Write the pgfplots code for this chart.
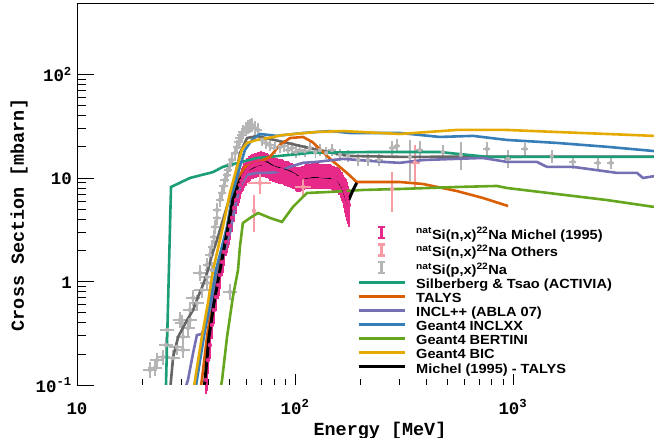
\documentclass[border=0pt]{standalone}
\usepackage{pgfplots}
\pgfplotsset{compat=1.18}
\usepackage{fontspec}
\setmainfont{Liberation Sans}
\setmonofont{Liberation Mono}
\newfontfamily\legfont{Liberation Sans}[FakeStretch=1.1]
\definecolor{cteal}{HTML}{1B9E77}
\definecolor{corange}{HTML}{D95F02}
\definecolor{cpurple}{HTML}{7570B3}
\definecolor{cblue}{HTML}{377EB8}
\definecolor{cgreen}{HTML}{66A61E}
\definecolor{cyellow}{HTML}{E6AB02}
\definecolor{cdgray}{HTML}{666666}
\definecolor{cmichel}{HTML}{E7298A}
\definecolor{cothers}{HTML}{F79CA4}
\definecolor{cpdata}{HTML}{B5B5B5}

\pgfplotstableread{
x y ex ey
21.6 0.140 0.05 0.12
22.8 0.146 0.05 0.12
23.3 0.174 0.05 0.12
24.8 0.186 0.05 0.12
25.6 0.243 0.05 0.12
25.9 0.340 0.05 0.12
27.6 0.182 0.05 0.12
28.7 0.233 0.05 0.12
29.7 0.425 0.05 0.12
30.6 0.218 0.05 0.12
30.6 0.291 0.05 0.12
30.3 0.397 0.05 0.12
32.3 0.355 0.05 0.12
33.0 0.425 0.05 0.12
33.0 0.530 0.05 0.12
34.1 0.693 0.05 0.12
35.5 0.620 0.05 0.12
36.7 1.208 0.05 0.12
37.4 0.828 0.05 0.12
39.5 0.97 0.05 0.12
39.5 1.105 0.05 0.12
41.6 1.291 0.05 0.12
50.3 0.792 0.05 0.12
39.5 1.443 0.02 0.10
40.7 1.803 0.02 0.10
41.6 2.154 0.02 0.10
42.5 2.692 0.02 0.10
43.0 3.36 0.02 0.10
43.9 4.11 0.02 0.10
43.9 4.91 0.02 0.10
45.3 6.13 0.02 0.10
46.3 7.16 0.02 0.10
47.2 8.37 0.02 0.10
47.7 9.56 0.02 0.10
48.8 10.7 0.02 0.10
49.3 11.9 0.02 0.10
50.3 13.4 0.02 0.10
51.4 14.9 0.02 0.10
53.1 17.4 0.02 0.10
54.2 19.9 0.02 0.10
55.3 22.3 0.02 0.10
55.9 24.3 0.02 0.10
57.1 26.0 0.02 0.10
57.7 27.8 0.02 0.10
59.6 29.7 0.02 0.10
60.9 31.1 0.02 0.10
62.2 31.8 0.02 0.10
63.5 32.5 0.02 0.10
65.5 30.4 0.02 0.10
67.7 29.1 0.02 0.10
70.6 23.3 0.02 0.08
73.6 21.8 0.02 0.08
76.8 20.8 0.02 0.08
80.9 19.5 0.02 0.08
85.3 19.9 0.02 0.08
89.0 20.4 0.02 0.08
92.9 18.6 0.02 0.08
96.9 19.5 0.02 0.08
101 17.8 0.02 0.08
105 18.6 0.02 0.08
111 18.2 0.02 0.08
117 19.5 0.02 0.08
124 17.8 0.02 0.08
130 18.6 0.02 0.08
139 17.4 0.02 0.08
148 18.6 0.02 0.08
161 16.7 0.02 0.08
175 16.3 0.02 0.08
195 14.9 0.02 0.08
216 14.9 0.02 0.08
243 14.9 0.02 0.08
279 19.5 0.01 0.10
294 20.4 0.01 0.10
337 16.0 0.01 0.38
374 18.6 0.01 0.17
477 17.8 0.01 0.10
577 16.7 0.01 0.25
760 19.1 0.01 0.10
949 15.3 0.01 0.14
1135 19.1 0.01 0.09
1509 16.3 0.01 0.09
1885 14.3 0.01 0.09
2455 14.0 0.01 0.09
2815 14.0 0.01 0.08
}\pdata

\pgfplotstableread{
x y e
39.1 0.112 0.22
39.9 0.174 0.22
40.7 0.243 0.22
41.6 0.380 0.22
42.5 0.530 0.22
43.4 0.708 0.22
44.4 0.925 0.22
45.3 1.156 0.22
46.3 1.543 0.22
47.2 1.928 0.22
48.3 2.41 0.22
49.3 2.88 0.22
50.3 3.44 0.22
51.4 4.11 0.22
52.5 5.13 0.22
53.6 6.13 0.22
54.8 7.32 0.22
55.9 8.56 0.22
56.8 9.4 0.22
57.7 10.2 0.22
58.6 10.8 0.22
59.6 11.4 0.22
60.5 12.0 0.22
61.5 12.5 0.22
62.5 12.8 0.22
63.5 13.1 0.22
64.5 13.3 0.22
65.5 13.4 0.22
66.6 13.6 0.22
67.7 13.7 0.22
68.7 13.9 0.22
69.8 14.0 0.22
71.0 13.9 0.22
72.1 13.7 0.22
73.2 13.5 0.22
74.4 13.4 0.22
75.6 13.1 0.22
76.8 12.8 0.22
78.0 12.6 0.22
79.3 12.5 0.22
80.5 12.3 0.22
81.8 12.2 0.22
83.1 12.0 0.22
84.5 11.9 0.22
85.8 11.9 0.22
87.2 11.9 0.22
88.6 11.6 0.22
90.0 11.4 0.22
91.4 11.3 0.22
92.9 11.2 0.22
94.4 11.0 0.22
95.9 10.9 0.22
97.4 10.7 0.22
99.0 10.5 0.22
100.5 10.2 0.22
102.1 10.0 0.22
103.7 10.0 0.22
105.4 10.0 0.22
107.1 10.1 0.22
108.8 10.2 0.22
110.5 10.4 0.22
112.3 10.5 0.22
114.1 10.5 0.22
115.9 10.5 0.22
117.8 10.6 0.22
119.7 10.7 0.22
121.6 10.7 0.22
123.5 10.7 0.22
125.5 10.7 0.22
127.5 10.7 0.22
129.5 10.6 0.22
131.6 10.5 0.22
133.7 10.5 0.22
135.8 10.5 0.22
138.0 10.5 0.22
140.2 10.5 0.22
142.4 10.5 0.22
144.7 10.5 0.22
147.0 10.4 0.22
149.4 10.2 0.22
151.8 10.1 0.22
154.2 10.0 0.22
156.7 9.8 0.23
159.2 9.56 0.24
161.7 9.1 0.25
164.3 8.56 0.26
166.9 7.9 0.28
169.6 7.32 0.30
171.4 6.9 0.33
173.2 6.41 0.35
175.0 5.9 0.35
176.9 5.48 0.35
}\michel

\pgfplotstableread{
x y ex ey
69.0 8.95 0.09 0.16
64.9 4.80 0.0 0.33
109 8.18 0.05 0.17
279 7.83 0.02 0.36
355 14.1 0.02 0.38
}\others

\begin{document}
\begin{tikzpicture}
\begin{axis}[
  set layers=standard,
  scale only axis, width=577bp, height=382bp,
  xmode=log, ymode=log,
  xmin=10, xmax=4440, ymin=0.1, ymax=490,
  axis line style={draw=none},
  tick pos=left,
  tick style={black, line width=0.6bp},
  xtick style={/pgfplots/major tick length=11bp,/pgfplots/minor tick length=6bp},
  ytick style={/pgfplots/major tick length=17bp,/pgfplots/minor tick length=9bp},
  xtick={10,100,1000}, xticklabels={10,10\textsuperscript{2},10\textsuperscript{3}},
  ytick={0.1,1,10,100}, yticklabels={10\textsuperscript{-1},1,10,10\textsuperscript{2}},
  xticklabel style={font=\ttfamily\bfseries\fontsize{17.5}{17.5}\selectfont, anchor=base, yshift=-29bp},
  yticklabel style={font=\ttfamily\bfseries\fontsize{17.5}{17.5}\selectfont, anchor=base east, inner sep=0pt, xshift=-5bp, yshift=-7bp},
  xlabel={Energy [MeV]}, ylabel={Cross Section [mbarn]},
  label style={font=\ttfamily\bfseries\fontsize{18.5}{20}\selectfont},
  xlabel style={at={(axis description cs:0.5251,-0.1309)}, anchor=base},
  ylabel style={at={(axis description cs:-0.0919,0.445)}, anchor=base},
  legend cell align=left,
  legend style={at={(axis description cs:0.4853,0.4180)}, anchor=north west,
    draw=none, fill=none, inner sep=0pt, row sep=0.6bp,
    font=\legfont\bfseries\fontsize{13.3}{15}\selectfont,
    nodes={inner sep=0pt, text height=10bp, text depth=3.5bp},
    /tikz/every odd column/.append style={column sep=10bp}},
]
\draw[black, line width=0.8bp] (rel axis cs:1,1) -- (rel axis cs:0,1) -- (rel axis cs:0,0) -- (rel axis cs:1,0);

% legend entries
\addlegendimage{legend image code/.code={\draw[cmichel, line width=2.6bp] (23bp,-2bp) -- (23bp,9bp) (19.5bp,-2bp) -- (26.5bp,-2bp) (19.5bp,9bp) -- (26.5bp,9bp);}}
\addlegendentry{\textsuperscript{nat}Si(n,x)\textsuperscript{22}Na Michel (1995)}
\addlegendimage{legend image code/.code={\draw[cothers, line width=2.6bp] (23bp,-2bp) -- (23bp,9bp) (19.5bp,-2bp) -- (26.5bp,-2bp) (19.5bp,9bp) -- (26.5bp,9bp);}}
\addlegendentry{\textsuperscript{nat}Si(n,x)\textsuperscript{22}Na Others}
\addlegendimage{legend image code/.code={\draw[cpdata, line width=2.6bp] (23bp,-2bp) -- (23bp,9bp) (19.5bp,-2bp) -- (26.5bp,-2bp) (19.5bp,9bp) -- (26.5bp,9bp);}}
\addlegendentry{\textsuperscript{nat}Si(p,x)\textsuperscript{22}Na}
\addlegendimage{legend image code/.code={\draw[cteal, line width=2.6bp] (0bp,3bp) -- (46bp,3bp);}}
\addlegendentry{Silberberg \& Tsao (ACTIVIA)}
\addlegendimage{legend image code/.code={\draw[corange, line width=2.6bp] (0bp,3bp) -- (46bp,3bp);}}
\addlegendentry{TALYS}
\addlegendimage{legend image code/.code={\draw[cpurple, line width=2.6bp] (0bp,3bp) -- (46bp,3bp);}}
\addlegendentry{INCL++ (ABLA 07)}
\addlegendimage{legend image code/.code={\draw[cblue, line width=2.6bp] (0bp,3bp) -- (46bp,3bp);}}
\addlegendentry{Geant4 INCLXX}
\addlegendimage{legend image code/.code={\draw[cgreen, line width=2.6bp] (0bp,3bp) -- (46bp,3bp);}}
\addlegendentry{Geant4 BERTINI}
\addlegendimage{legend image code/.code={\draw[cyellow, line width=2.6bp] (0bp,3bp) -- (46bp,3bp);}}
\addlegendentry{Geant4 BIC}
\addlegendimage{legend image code/.code={\draw[black, line width=3bp] (0bp,3bp) -- (46bp,3bp);}}
\addlegendentry{Michel (1995) - TALYS}

% p data
\addplot[forget plot, on layer=axis grid, only marks, mark=none, color=cpdata,
  error bars/.cd, x dir=both, y dir=both, x explicit relative, y explicit relative,
  error bar style={line width=1.6bp, cpdata}, error mark options={line width=1.6bp, mark size=2.5bp, cpdata}]
  table[x=x, y=y, x error=ex, y error=ey] {\pdata};
% Michel data
\addplot[forget plot, on layer=axis grid, only marks, mark=none, color=cmichel,
  error bars/.cd, y dir=both, y explicit relative,
  error bar style={line width=3bp, cmichel}, error mark options={line width=1.8bp, mark size=2.5bp, cmichel}]
  table[x=x, y=y, y error=e] {\michel};
% Others
\addplot[forget plot, on layer=axis grid, only marks, mark=none, color=cothers,
  error bars/.cd, x dir=both, y dir=both, x explicit relative, y explicit relative,
  error bar style={line width=2bp, cothers}, error mark options={line width=2bp, mark size=3bp, cothers}]
  table[x=x, y=y, x error=ex, y error=ey] {\others};

% dark gray fit line
\addplot[forget plot, cdgray, line width=2.6bp] coordinates {
(26.7,0.0856) (27.6,0.186) (29.1,0.291) (32.0,0.425) (34.1,0.530) (35.9,0.708) (38.2,0.97) (39.9,1.291) (41.6,1.803) (43.9,2.52) (46.7,3.93) (52.0,8.18) (56.0,17.5) (60.3,24.3) (67.0,25.4) (88.2,22.3) (126,18.7) (179,16.3) (303,16.0) (4440,16.1)};
% Silberberg & Tsao
\addplot[forget plot, cteal, line width=2.6bp] coordinates {
(25.5,0.0716) (27.0,8.18) (33.0,10.0) (42.1,11.4) (46.7,12.8) (66.9,15.6) (94.9,16.7) (117,17.5) (214,17.8) (462,17.8) (760,16.0) (4440,16.0)};
% TALYS
\addplot[forget plot, corange, line width=2.6bp] coordinates {
(36.7,0.0856) (37.4,0.112) (39.5,0.291) (41.6,0.620) (43.9,1.291) (48.8,3.36) (51.4,6.13) (54.8,10.0) (59.0,12.8) (66.9,14.0) (76.8,16.0) (85.3,20.8) (94.9,24.3) (108.8,24.9) (120,22.3) (145,15.3) (173,11.2) (192,9.14) (303,9.14) (386,8.75) (553,7.48) (728,6.41) (950,5.36)};
% INCL++
\addplot[forget plot, cpurple, line width=2.6bp] coordinates {
(31.0,0.0856) (32.3,0.112) (34.1,0.204) (35.5,0.304) (37.4,0.311) (39.5,0.425) (41.6,0.620) (44.8,1.291) (50.3,2.94) (53.1,5.25) (55.9,8.18) (60.2,10.7) (66.9,11.2) (74.4,11.2) (82.7,11.4) (94.9,12.8) (108.8,14.0) (126,14.3) (166,15.3) (253,14.3) (303,14.0) (386,14.9) (553,15.3) (728,15.6) (938,14.3) (1288,14.3) (1432,12.8) (1884,12.8) (2427,11.9) (3000,11.2) (3710,11.2) (3950,10.0) (4440,10.4)};
% Geant4 INCLXX
\addplot[forget plot, cblue, line width=2.6bp] coordinates {
(34.8,0.0856) (35.5,0.112) (38.2,0.291) (40.7,0.620) (43.4,1.291) (48.8,3.36) (51.9,7.16) (55.9,12.8) (59.0,18.7) (63.5,23.3) (69.1,26.6) (82.6,25.5) (109,27.2) (145,28.4) (179,27.2) (303,27.2) (462,24.9) (656,25.5) (938,23.3) (1590,21.8) (2700,20.0) (4440,18.2)};
% Geant4 BERTINI
\addplot[forget plot, cgreen, line width=2.6bp] coordinates {
(45.3,0.0856) (46.3,0.112) (48.8,0.291) (51.9,0.708) (54.8,1.291) (55.9,2.154) (57.7,3.67) (62.2,4.11) (67.7,4.59) (76.8,4.11) (87.2,3.76) (97.9,5.25) (113.5,7.16) (145,7.33) (205,7.66) (303,7.83) (553,8.18) (845,8.37) (938,8.0) (1590,7.0) (2700,6.12) (4440,5.25)};
% Geant4 BIC
\addplot[forget plot, cyellow, line width=2.6bp] coordinates {
(34.1,0.0856) (34.8,0.112) (37.4,0.291) (39.9,0.620) (42.1,1.291) (46.7,3.36) (50.3,7.16) (54.2,12.8) (57.1,18.7) (60.2,21.8) (66.9,23.3) (71.3,23.8) (88.2,26.0) (126,27.8) (166,28.4) (303,26.6) (553,29.1) (938,29.1) (1590,27.8) (2700,26.6) (4440,25.5)};
% Michel - TALYS
\addplot[forget plot, black, line width=3bp] coordinates {
(37.9,0.08) (38.7,0.112) (40.3,0.291) (42.5,0.620) (45.3,1.291) (49.3,3.36) (51.9,6.13) (55.9,9.56) (60.2,11.9) (66.9,13.4) (74.4,14.0) (79.3,12.8) (94.9,11.4) (105,10.0) (113.5,10.2) (126,10.4) (140,10.2) (156,10.0) (166,8.0) (175,5.86) (183,7.33) (192,8.95)};
\end{axis}
\pgfresetboundingbox
\path[use as bounding box] (current axis.south west) ++(-77bp,-53bp) rectangle ++(654bp,438bp);
\end{tikzpicture}
\end{document}
